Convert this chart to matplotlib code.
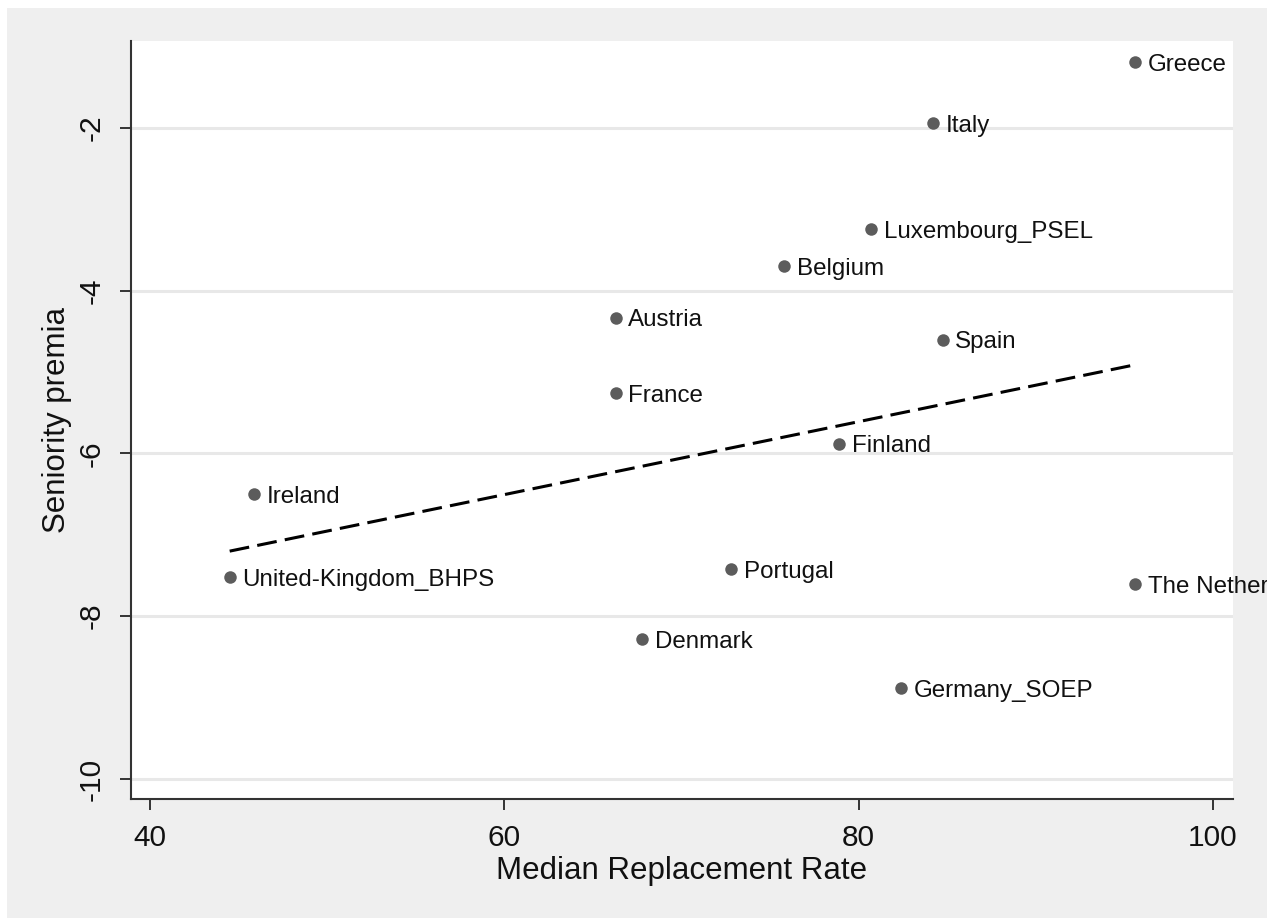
import matplotlib
matplotlib.use("Agg")
import matplotlib.pyplot as plt
from matplotlib.patches import Rectangle

plt.rcParams['font.family'] = ['Liberation Sans', 'DejaVu Sans']

# Country estimates
countries = ['Greece', 'Italy', 'Luxembourg_PSEL', 'Belgium', 'Austria', 'Spain',
             'France', 'Finland', 'Ireland', 'United-Kingdom_BHPS', 'Portugal',
             'The Netherlands', 'Denmark', 'Germany_SOEP']
replacement_rate = [95.6, 84.2, 80.7, 75.8, 66.3, 84.75,
                    66.3, 78.9, 45.9, 44.5, 72.8,
                    95.6, 67.8, 82.4]
seniority_premia = [-1.19, -1.94, -3.24, -3.70, -4.33, -4.60,
                    -5.26, -5.88, -6.50, -7.52, -7.42,
                    -7.61, -8.28, -8.88]

# Fitted line end points
fit_x = [44.5, 95.6]
fit_y = [-7.20, -4.91]

xticks = [40, 60, 80, 100]
yticks = [-2, -4, -6, -8, -10]

bg = '#efefef'
fig = plt.figure(figsize=(12.79, 9.18), dpi=100, facecolor='white')
panel = Rectangle((7 / 1279, 0), 1260 / 1279, 1 - 8 / 918, transform=fig.transFigure,
                  facecolor=bg, edgecolor='none', zorder=-10)
fig.patches.append(panel)

ax = fig.add_axes([131 / 1279, 1 - 799 / 918, (1233 - 131) / 1279, (799 - 41) / 918])
ax.set_facecolor('white')

ax.set_xlim(38.93, 101.13)
ax.set_ylim(-10.246, -0.931)

for y in yticks:
    ax.axhline(y, color='#e8e8e8', lw=2.2, zorder=0)

ax.plot(fit_x, fit_y, color='black', lw=2.2, linestyle=(0, (6.5, 2.7)), zorder=2)
ax.plot(replacement_rate, seniority_premia, 'o', color='#5c5c5c', ms=9,
        markeredgewidth=0, zorder=3)

# labels run past the plot area and stop at the grey panel edge
clip = Rectangle((7 / 1279, 0), 1260 / 1279, 1 - 8 / 918, transform=fig.transFigure,
                 facecolor='none', edgecolor='none')
fig.patches.append(clip)
for name, x, y in zip(countries, replacement_rate, seniority_premia):
    t = ax.annotate(name, (x, y), xytext=(9, -2), textcoords='offset points',
                    fontsize=17.4, va='center', ha='left', color='#111111',
                    annotation_clip=False)
    t.set_clip_path(clip)

for side in ['top', 'right']:
    ax.spines[side].set_visible(False)
for side in ['left', 'bottom']:
    ax.spines[side].set_color('#333333')
    ax.spines[side].set_linewidth(1.5)

ax.set_xticks(xticks)
ax.set_yticks(yticks)
ax.set_xticklabels([str(v) for v in xticks])
ax.set_yticklabels([str(v) for v in yticks], rotation=90, va='center')
ax.tick_params(axis='both', direction='out', length=8, width=1.4, color='#333333',
               labelsize=21.5, labelcolor='#111111', pad=10)

ax.set_xlabel('Median Replacement Rate', fontsize=22.5, color='#111111', labelpad=3)
ax.set_ylabel('Seniority premia', fontsize=22.5, color='#111111', labelpad=4)

fig.savefig('out.png', dpi=100, facecolor='white')
